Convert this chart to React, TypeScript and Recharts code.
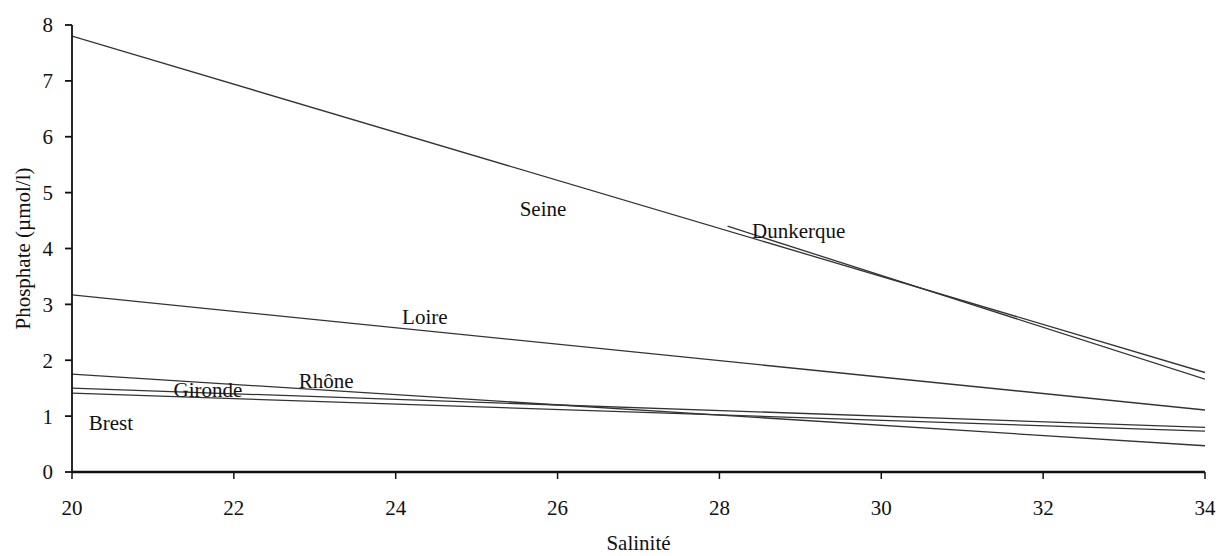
import React from 'react';
import { LineChart, Line, XAxis, YAxis, ReferenceDot } from 'recharts';

// salinity / phosphate end points
const seine = [{ s: 20, p: 7.8 }, { s: 34, p: 1.78 }];
const dunkerque = [{ s: 28.1, p: 4.4 }, { s: 34, p: 1.66 }];
const loire = [{ s: 20, p: 3.17 }, { s: 34, p: 1.11 }];
const rhone = [{ s: 20, p: 1.75 }, { s: 34, p: 0.47 }];
const gironde = [{ s: 20, p: 1.5 }, { s: 34, p: 0.8 }];
const brest = [{ s: 20, p: 1.41 }, { s: 34, p: 0.73 }];

const xTicks = [20, 22, 24, 26, 28, 30, 32, 34];
const yTicks = [0, 1, 2, 3, 4, 5, 6, 7, 8];

// river name annotations (data coordinates)
const riverLabels = [
  { name: 'Seine', s: 25.82, p: 4.72 },
  { name: 'Dunkerque', s: 28.98, p: 4.33 },
  { name: 'Loire', s: 24.36, p: 2.79 },
  { name: 'Rhône', s: 23.14, p: 1.63 },
  { name: 'Gironde', s: 21.68, p: 1.47 },
  { name: 'Brest', s: 20.48, p: 0.88 },
];

const FONT = '"Liberation Serif", "Times New Roman", serif';
const FS = 21;
const LINE = '#333';

const series = [seine, dunkerque, loire, rhone, gironde, brest];

const App = () => {
  return (
    <div style={{ position: 'absolute', left: 0, top: 0, width: 1219, height: 556, overflow: 'hidden', background: '#fff', fontFamily: FONT }}>
      <LineChart
        width={1219}
        height={556}
        margin={{ top: 25, right: 14, left: 0, bottom: 0 }}
      >
        <XAxis
          type="number"
          dataKey="s"
          domain={[20, 34]}
          ticks={xTicks}
          allowDataOverflow
          height={84}
          tickSize={7}
          tickMargin={21}
          stroke="#111"
          strokeWidth={2.5}
          tick={{ fill: '#111', fontSize: FS, fontFamily: FONT }}
          tickLine={{ stroke: '#111', strokeWidth: 1.5 }}
          label={{ value: 'Salinité', position: 'insideBottom', offset: 6, fill: '#111', fontSize: FS, fontFamily: FONT }}
        />
        <YAxis
          type="number"
          dataKey="p"
          domain={[0, 8]}
          ticks={yTicks}
          width={72}
          tickSize={7}
          tickMargin={12}
          stroke="#111"
          strokeWidth={1.8}
          tick={{ fill: '#111', fontSize: FS, fontFamily: FONT }}
          label={{
            value: 'Phosphate (µmol/l)',
            angle: -90,
            position: 'insideLeft',
            offset: 23,
            fill: '#111',
            fontSize: FS,
            fontFamily: FONT,
            style: { textAnchor: 'middle' },
          }}
        />
        {series.map((d, i) => (
          <Line
            key={i}
            data={d}
            dataKey="p"
            type="linear"
            stroke={LINE}
            strokeWidth={1.3}
            dot={false}
            activeDot={false}
            isAnimationActive={false}
          />
        ))}
        {riverLabels.map((l) => (
          <ReferenceDot
            key={l.name}
            x={l.s}
            y={l.p}
            r={0}
            fill="none"
            stroke="none"
            label={{ value: l.name, position: 'center', fill: '#111', fontSize: FS, fontFamily: FONT }}
          />
        ))}
      </LineChart>
    </div>
  );
};

export default App;
